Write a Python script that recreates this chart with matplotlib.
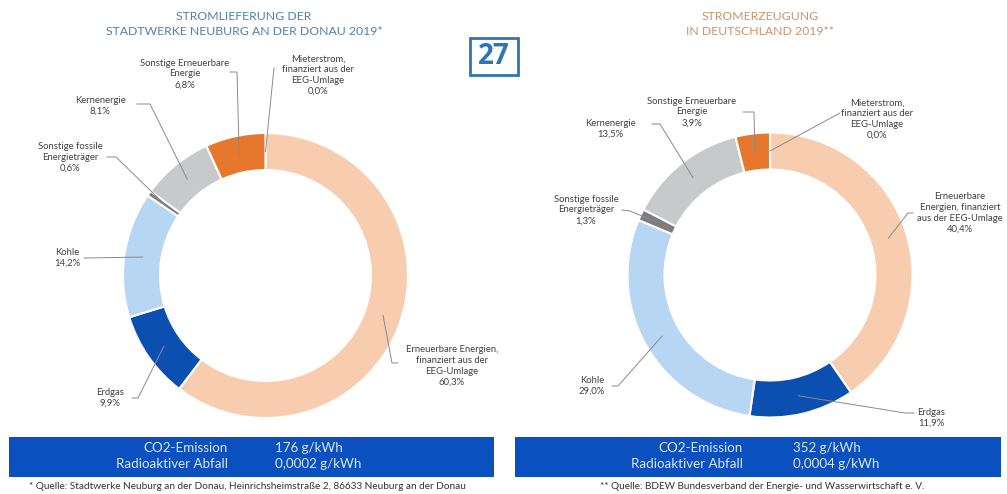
import numpy as np
import matplotlib.pyplot as plt
from matplotlib.patches import Rectangle

plt.rcParams['font.family'] = ['Lato', 'DejaVu Sans']

# ---------------- data ----------------
categories = ["Mieterstrom", "Erneuerbare Energien (EEG)", "Erdgas", "Kohle",
              "Sonstige fossile Energieträger", "Kernenergie",
              "Sonstige Erneuerbare Energie"]
neuburg_values = [0.0, 60.3, 9.9, 14.2, 0.6, 8.1, 6.8]
germany_values = [0.0, 40.4, 11.9, 29.0, 1.3, 13.5, 3.9]

neuburg_names = ["Mieterstrom,\nfinanziert aus der\nEEG-Umlage",
                 "Erneuerbare Energien,\nfinanziert aus der\nEEG-Umlage",
                 "Erdgas", "Kohle", "Sonstige fossile\nEnergieträger",
                 "Kernenergie", "Sonstige Erneuerbare\nEnergie"]
germany_names = ["Mieterstrom,\nfinanziert aus der\nEEG-Umlage",
                 "Erneuerbare\nEnergien, finanziert\naus der EEG-Umlage",
                 "Erdgas", "Kohle", "Sonstige fossile\nEnergieträger",
                 "Kernenergie", "Sonstige Erneuerbare\nEnergie"]

neuburg_title = "STROMLIEFERUNG DER\nSTADTWERKE NEUBURG AN DER DONAU 2019*"
germany_title = "STROMERZEUGUNG\nIN DEUTSCHLAND 2019**"
neuburg_co2 = "176 g/kWh"
neuburg_waste = "0,0002 g/kWh"
germany_co2 = "352 g/kWh"
germany_waste = "0,0004 g/kWh"
neuburg_source = "* Quelle: Stadtwerke Neuburg an der Donau, Heinrichsheimstraße 2, 86633 Neuburg an der Donau"
germany_source = "** Quelle: BDEW Bundesverband der Energie- und Wasserwirtschaft e. V."
page_number = "27"

colors = ["#E8772E", "#F8CCAE", "#0B4FB0", "#B7D6F4", "#7C7C7C", "#C8C9CB", "#E8772E"]

# ---------------- figure ----------------
W, H = 1007, 494
fig = plt.figure(figsize=(W / 100, H / 100), dpi=100)
ax = fig.add_axes([0, 0, 1, 1])


def P(x, y):
    """pixel (top-left origin) -> data coords"""
    return x, H - y


R_OUT, WIDTH = 142.5, 37
TXT = "#404040"
LINE = "#8A8A8A"


def donut(values, names, cx, cy, layout):
    wedges, _ = ax.pie(values, radius=R_OUT, center=P(cx, cy), startangle=90,
                       counterclock=False, colors=colors,
                       wedgeprops=dict(width=WIDTH, edgecolor="white", linewidth=1.5))
    rmid = R_OUT - WIDTH / 2
    for w, name, v, (tx, ty, pts) in zip(wedges, names, values, layout):
        ang = np.deg2rad((w.theta1 + w.theta2) / 2)
        ex, ey = w.center[0] + rmid * np.cos(ang), w.center[1] + rmid * np.sin(ang)
        xs = [p[0] for p in pts] + [ex]
        ys = [H - p[1] for p in pts] + [ey]
        ax.plot(xs, ys, color=LINE, lw=0.7, zorder=5)
        label = name + "\n" + f"{v:.1f}".replace(".", ",") + "%"
        ax.text(*P(tx, ty), label, ha="center", va="center", fontsize=6.8,
                color=TXT, linespacing=1.25, zorder=6)


# layout: (text centre x, y, leader polyline points) in pixels
left_layout = [
    (318, 75, [(274, 68)]),
    (452, 366, [(398, 363), (392, 363)]),
    (110, 398, [(132, 398), (138, 398)]),
    (67, 258, [(84, 258)]),
    (70, 157, [(107, 157), (116, 157)]),
    (100, 106, [(137, 104), (150, 104)]),
    (185, 74, [(230, 72), (237, 72)]),
]
right_layout = [
    (877, 119, [(840, 113)]),
    (960, 213, [(913, 213), (908, 213)]),
    (931, 418, [(914, 413), (905, 413)]),
    (592, 386, [(612, 386), (618, 386)]),
    (586, 210, [(622, 210), (630, 211)]),
    (610, 129, [(652, 124), (660, 124)]),
    (692, 112, [(743, 112), (754, 112)]),
]

donut(neuburg_values, neuburg_names, 265.5, 275.5, left_layout)
donut(germany_values, germany_names, 770, 275, right_layout)

ax.set_xlim(0, W)
ax.set_ylim(0, H)
ax.set_aspect("auto")
ax.axis("off")

# titles
ax.text(*P(244, 24), neuburg_title, ha="center", va="center", fontsize=8.8,
        color="#4F82AA", linespacing=1.4)
ax.text(*P(760, 24), germany_title, ha="center", va="center", fontsize=8.8,
        color="#C9946A", linespacing=1.4)

# page number box
ax.add_patch(Rectangle(P(470, 75), 48, 37, facecolor="white",
                       edgecolor="#2E75B6", lw=2))
ax.text(*P(494, 57), page_number, ha="center", va="center", fontsize=20,
        fontweight="bold", color="#2E75B6", family=["Open Sans", "DejaVu Sans"])

# bottom info boxes
BOX = "#0A50BE"
BTXT = "#DCE6F5"
for x0, x1, lab_x, val_x, co2, waste in [(9, 494, 228, 275, neuburg_co2, neuburg_waste),
                                         (515, 1001, 743, 793, germany_co2, germany_waste)]:
    ax.add_patch(Rectangle(P(x0, 477), x1 - x0, 40, facecolor=BOX, edgecolor="none"))
    ax.text(*P(lab_x, 448), "CO2-Emission", ha="right", va="center",
            fontsize=9.6, color=BTXT)
    ax.text(*P(lab_x, 464), "Radioaktiver Abfall", ha="right", va="center",
            fontsize=9.6, color=BTXT)
    ax.text(*P(val_x, 448), co2, ha="left", va="center",
            fontsize=9.6, color=BTXT)
    ax.text(*P(val_x, 464), waste, ha="left", va="center",
            fontsize=9.6, color=BTXT)

ax.text(*P(247, 486), neuburg_source, ha="center", va="center", fontsize=7.2,
        color="#333333")
ax.text(*P(762, 486), germany_source, ha="center", va="center", fontsize=7.2,
        color="#333333")

fig.savefig("out.png", dpi=100, facecolor="white")
